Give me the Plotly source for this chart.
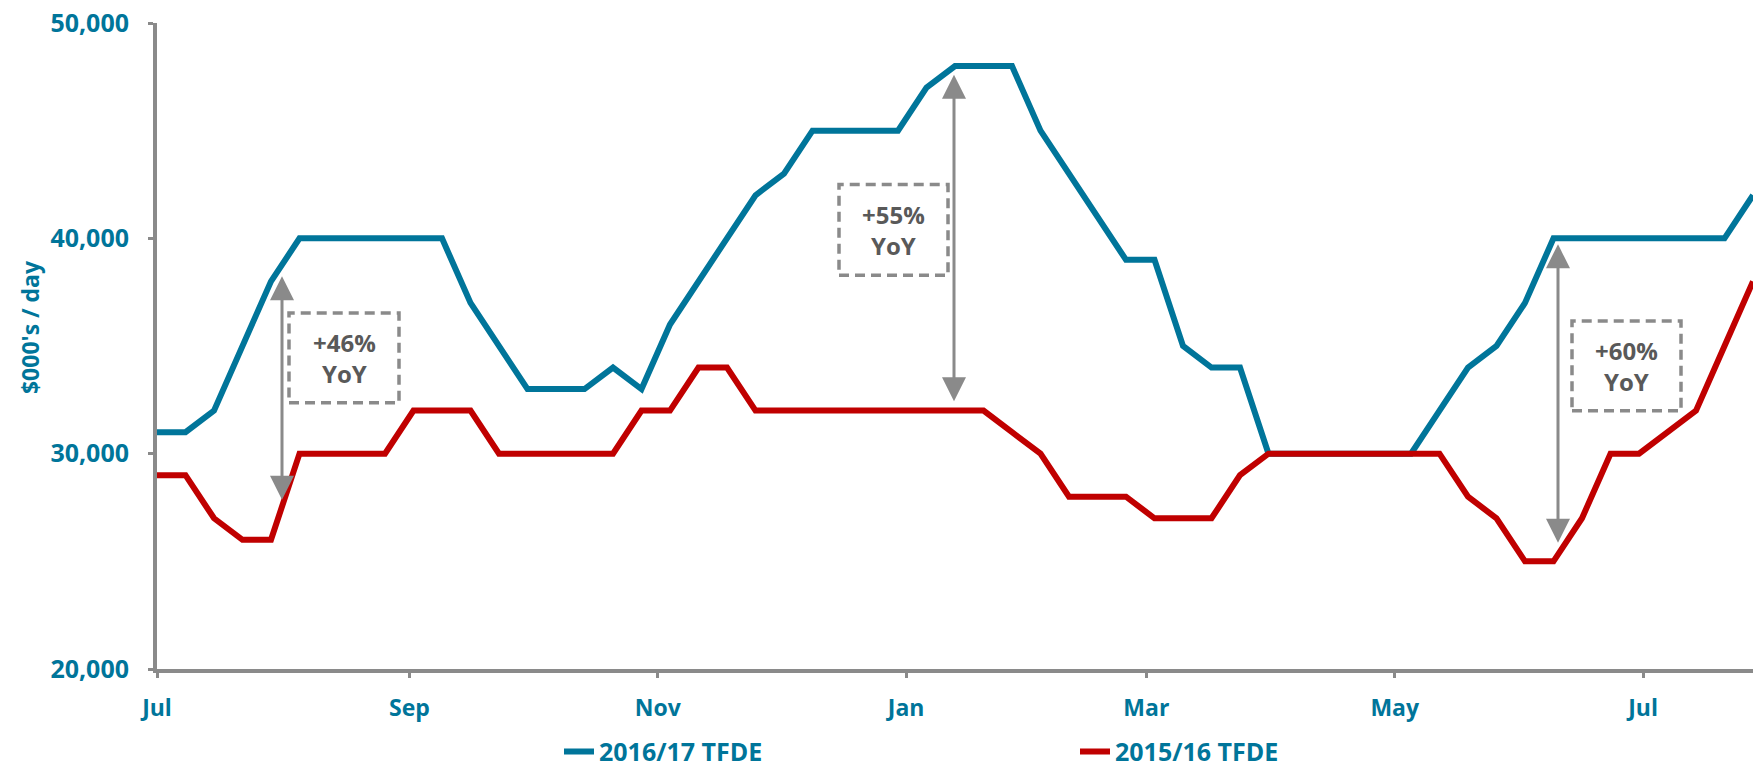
import pandas as pd
import plotly.graph_objects as go

# Weekly TFDE spot rates ($000's / day), season starting in July
season_start = "2016-07-01"
n_weeks = 57
weeks = pd.date_range(season_start, periods=n_weeks, freq="7D")

tfde_2016_17 = [
    31000, 31000, 32000, 35000, 38000, 40000, 40000, 40000, 40000, 40000,
    40000, 37000, 35000, 33000, 33000, 33000, 34000, 33000, 36000, 38000,
    40000, 42000, 43000, 45000, 45000, 45000, 45000, 47000, 48000, 48000,
    48000, 45000, 43000, 41000, 39000, 39000, 35000, 34000, 34000, 30000,
    30000, 30000, 30000, 30000, 30000, 32000, 34000, 35000, 37000, 40000,
    40000, 40000, 40000, 40000, 40000, 40000, 42000,
]
tfde_2015_16 = [
    29000, 29000, 27000, 26000, 26000, 30000, 30000, 30000, 30000, 32000,
    32000, 32000, 30000, 30000, 30000, 30000, 30000, 32000, 32000, 34000,
    34000, 32000, 32000, 32000, 32000, 32000, 32000, 32000, 32000, 32000,
    31000, 30000, 28000, 28000, 28000, 27000, 27000, 27000, 29000, 30000,
    30000, 30000, 30000, 30000, 30000, 30000, 28000, 27000, 25000, 25000,
    27000, 30000, 30000, 31000, 32000, 35000, 38000,
]
y_ticks = [20000, 30000, 40000, 50000]
yoy_labels = ["+46%", "+55%", "+60%"]

TEAL = "#00759A"
RED = "#C00000"
AXIS = "#8A8A8A"
NOTE = "#595959"
FONT = "Open Sans"

W, H = 1753, 775
L, R, T, B = 157, 0, 23, 104
PW, PH = W - L - R, H - T - B


def fx(px):
    return (px - L) / PW


def fy(py):
    return (H - B - py) / PH


fig = go.Figure()
fig.add_trace(go.Scatter(
    x=weeks, y=tfde_2016_17, mode="lines", name="2016/17 TFDE",
    line=dict(color=TEAL, width=6),
))
fig.add_trace(go.Scatter(
    x=weeks, y=tfde_2015_16, mode="lines", name="2015/16 TFDE",
    line=dict(color=RED, width=6),
))

# dashed boxes with the year-on-year labels
boxes = [(289, 314, 399, 404), (839, 185, 948, 276), (1572, 322, 1681, 412)]
for (x0, y0, x1, y1), lab in zip(boxes, yoy_labels):
    fig.add_shape(
        type="rect", xref="paper", yref="paper",
        x0=fx(x0), x1=fx(x1), y0=fy(y1), y1=fy(y0),
        line=dict(color=AXIS, width=3.5, dash="10px,6px"),
    )
    fig.add_annotation(
        xref="paper", yref="paper", x=fx((x0 + x1) / 2), y=fy((y0 + y1) / 2),
        xanchor="center", yanchor="middle",
        text=f"{lab}<br>YoY", showarrow=False, align="center",
        font=dict(family=FONT, size=24, color=NOTE, weight="bold"),
    )

# double-headed arrows spanning the gap between the two seasons
arrows = [(282, 277, 502), (954, 75, 403), (1558, 245, 545)]
for ax_px, top, bottom in arrows:
    fig.add_annotation(
        xref="paper", yref="paper", x=fx(ax_px), y=fy(top),
        ax=0, ay=bottom - top, text="", showarrow=True,
        arrowhead=2, arrowside="end+start", arrowsize=1.6, arrowwidth=3,
        arrowcolor=AXIS, standoff=0, startstandoff=0,
    )

# y-axis title
fig.add_annotation(
    xref="paper", yref="paper", x=fx(30), y=fy(328),
    xanchor="center", yanchor="middle",
    text="$000's / day", textangle=-90, showarrow=False,
    font=dict(family=FONT, size=23, color=TEAL, weight="bold"),
)

fig.update_layout(
    width=W, height=H,
    margin=dict(l=L, r=R, t=T, b=B, pad=0),
    paper_bgcolor="white", plot_bgcolor="white",
    font=dict(family=FONT, color=TEAL),
    showlegend=True,
    legend=dict(
        orientation="h", xref="paper", yref="paper",
        x=fx(559), xanchor="left", y=fy(754), yanchor="middle",
        entrywidth=471, entrywidthmode="pixels",
        font=dict(family=FONT, size=25, color=TEAL, weight="bold"),
        bgcolor="rgba(0,0,0,0)",
    ),
    xaxis=dict(
        type="date", range=[weeks[0], weeks[-1]],
        tick0=season_start, dtick="M2", tickformat="%b",
        showgrid=False, zeroline=False,
        showline=True, linecolor=AXIS, linewidth=4,
        ticks="outside", ticklen=5, tickwidth=3, tickcolor=AXIS,
        ticklabelstandoff=10,
        tickfont=dict(family=FONT, size=23, color=TEAL, weight="bold"),
    ),
    yaxis=dict(
        range=[20000, 50000], tickvals=y_ticks, tickformat=",",
        showgrid=False, zeroline=False,
        showline=True, linecolor=AXIS, linewidth=4,
        ticks="outside", ticklen=5, tickwidth=3, tickcolor=AXIS,
        ticklabelstandoff=14,
        tickfont=dict(family=FONT, size=25, color=TEAL, weight="bold"),
    ),
)

fig.write_html("out.html")
